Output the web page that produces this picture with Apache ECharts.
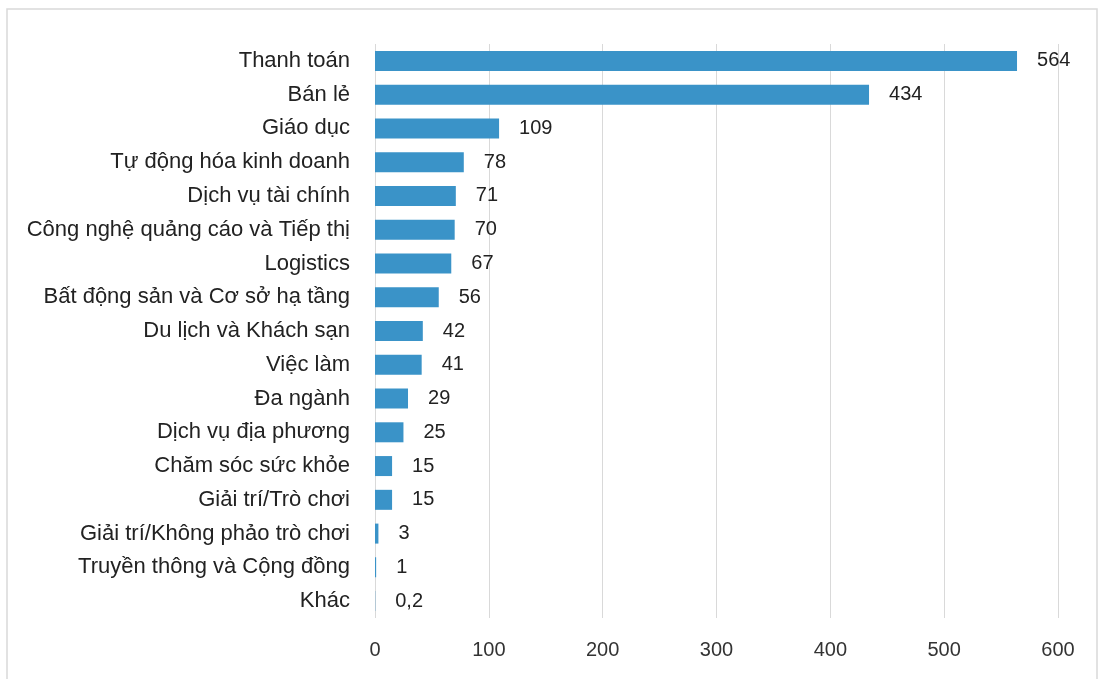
<!DOCTYPE html>
<html>
<head>
<meta charset="utf-8">
<script src="https://cdn.jsdelivr.net/npm/echarts@6/dist/echarts.min.js"></script>
<style>
  html, body { margin: 0; padding: 0; background: #fff; }
  #main { width: 1100px; height: 679px; }
</style>
</head>
<body>
<div id="main"></div>
<script>
// danh mục (từ trên xuống)
const categories = [
  'Thanh toán', 'Bán lẻ', 'Giáo dục', 'Tự động hóa kinh doanh', 'Dịch vụ tài chính',
  'Công nghệ quảng cáo và Tiếp thị', 'Logistics', 'Bất động sản và Cơ sở hạ tầng',
  'Du lịch và Khách sạn', 'Việc làm', 'Đa ngành', 'Dịch vụ địa phương',
  'Chăm sóc sức khỏe', 'Giải trí/Trò chơi', 'Giải trí/Không phảo trò chơi',
  'Truyền thông và Cộng đồng', 'Khác'
];
const values = [564, 434, 109, 78, 71, 70, 67, 56, 42, 41, 29, 25, 15, 15, 3, 1, 0.2];
const xTicks = [0, 100, 200, 300, 400, 500, 600];

const chart = echarts.init(document.getElementById('main'));
const font = 'Liberation Sans, Arial, sans-serif';

const option = {
  animation: false,
  backgroundColor: '#fff',
  graphic: [{
    type: 'rect',
    shape: { x: 7, y: 9, width: 1090, height: 690 },
    style: { fill: 'none', stroke: '#d9d9d9', lineWidth: 1.5 },
    silent: true
  }],
  grid: { left: 375, right: 42, top: 44, bottom: 61 },
  xAxis: {
    type: 'value',
    min: xTicks[0],
    max: xTicks[xTicks.length - 1],
    interval: 100,
    axisLine: { show: false },
    axisTick: { show: false },
    splitLine: { lineStyle: { color: '#d9d9d9', width: 1 } },
    axisLabel: { color: '#333', fontSize: 20, fontFamily: font, margin: 22 }
  },
  yAxis: {
    type: 'category',
    inverse: true,
    data: categories,
    axisLine: { show: false },
    axisTick: { show: false },
    axisLabel: { color: '#222', fontSize: 22, fontFamily: font, margin: 25 }
  },
  series: [{
    type: 'bar',
    data: values,
    barWidth: 20,
    itemStyle: { color: '#3a93c8' },
    label: {
      show: true,
      position: 'right',
      distance: 20,
      color: '#222',
      fontSize: 20,
      fontFamily: font,
      formatter: p => String(p.value).replace('.', ',')
    }
  }]
};
chart.setOption(option);
</script>
</body>
</html>
